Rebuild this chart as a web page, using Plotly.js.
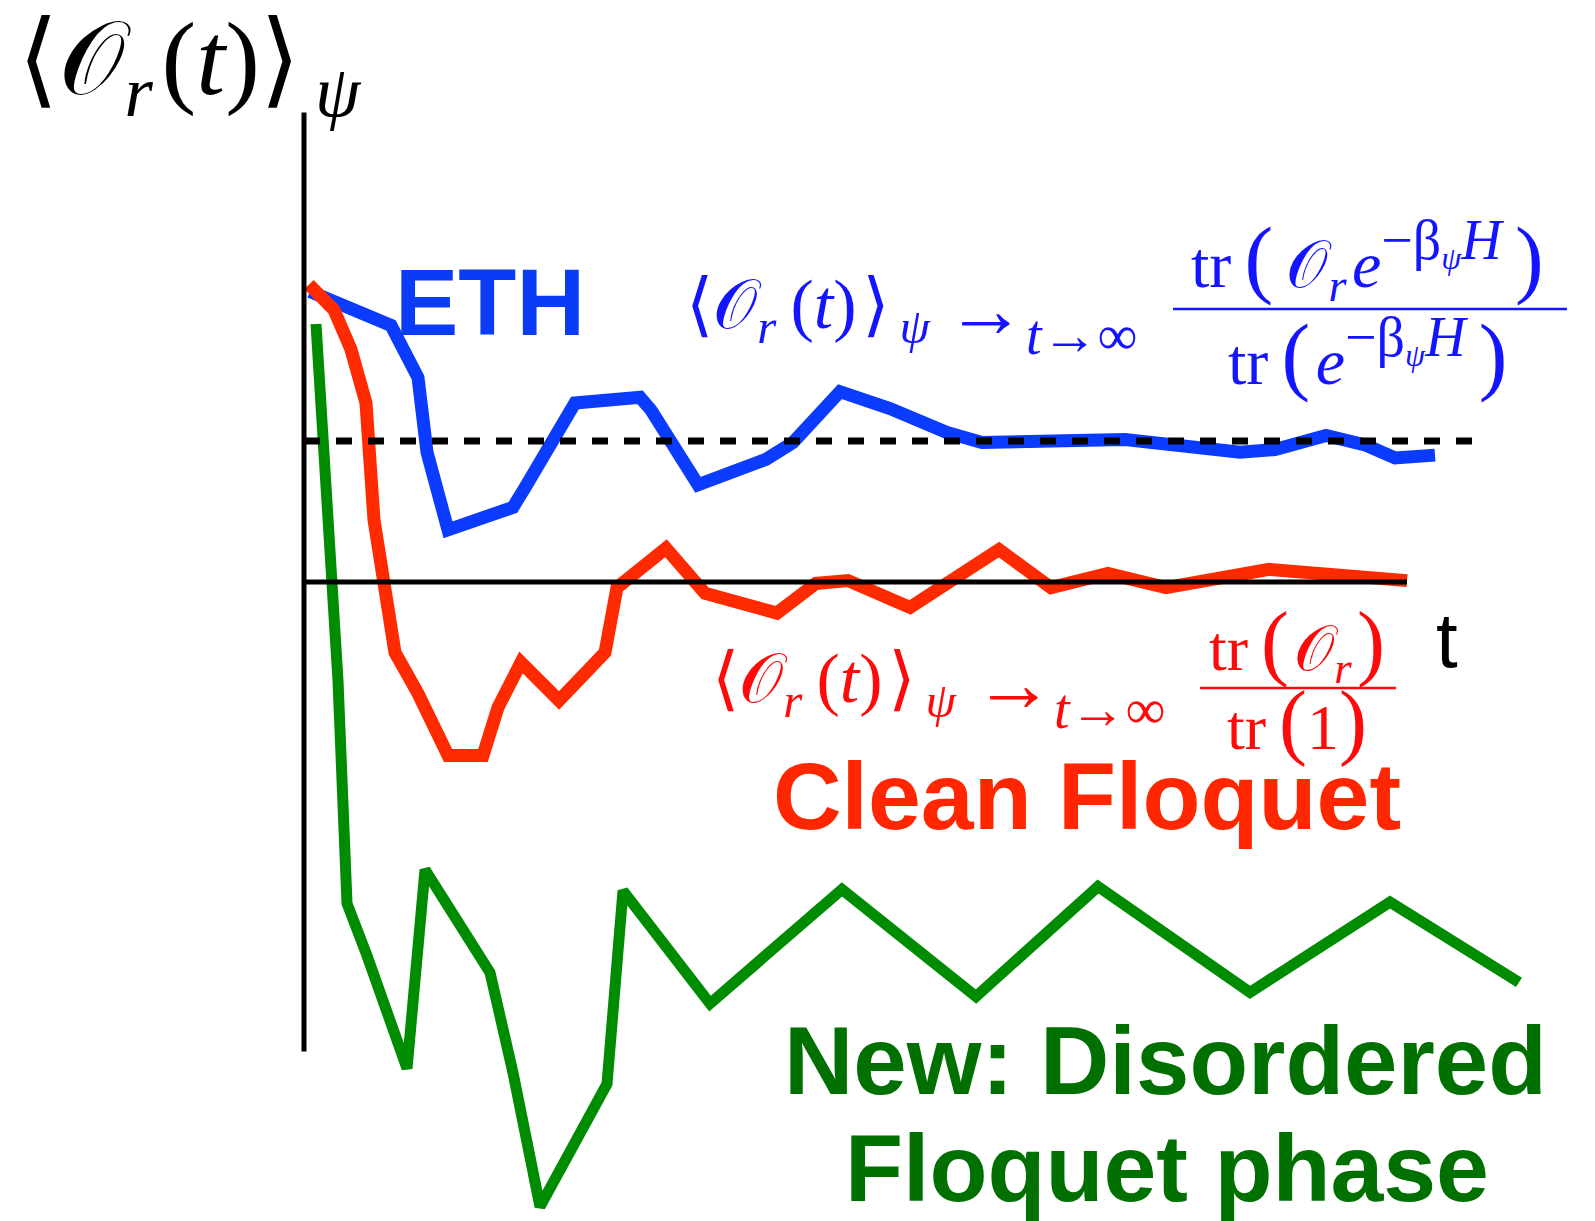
<!DOCTYPE html>
<html>
<head>
<meta charset="utf-8">
<script src="https://cdn.plot.ly/plotly-3.0.1.min.js"></script>
<style>html,body{margin:0;padding:0;background:#fff;}#chart{width:1595px;height:1221px;}</style>
</head>
<body>
<div id="chart"></div>
<script>
// ---- data (time t, expectation value; 0 = infinite-temperature value, 1 = thermal value) ----
const ethT   = [0.06,0.87,1.14,1.23,1.44,2.09,2.21,2.44,2.71,3.36,3.47,3.94,4.62,4.89,5.36,5.86,6.43,6.78,8.21,9.36,9.71,10.22,10.62,10.91,11.31];
const ethV   = [2.06,1.82,1.45,0.92,0.37,0.53,0.67,0.96,1.27,1.31,1.22,0.69,0.87,0.99,1.35,1.23,1.06,0.99,1.01,0.92,0.94,1.04,0.97,0.88,0.90];
const cleanT = [0.05,0.30,0.47,0.62,0.70,0.79,0.91,1.14,1.44,1.79,1.94,2.17,2.55,3.01,3.13,3.62,4.01,4.73,5.12,5.44,6.06,6.95,7.47,8.04,8.62,9.65,10.22,11.03];
const cleanV = [2.11,1.93,1.65,1.27,0.44,-0.01,-0.50,-0.79,-1.23,-1.23,-0.89,-0.57,-0.84,-0.50,-0.04,0.24,-0.08,-0.22,-0.01,0.01,-0.18,0.23,-0.04,0.06,-0.04,0.09,0.05,0.01];
const disT   = [0.12,0.19,0.28,0.34,0.43,0.63,1.03,1.21,1.86,2.09,2.36,3.03,3.19,4.06,5.38,6.72,7.94,9.46,10.86,12.15];
const disV   = [1.83,1.01,-0.08,-0.70,-2.28,-2.65,-3.45,-2.04,-2.77,-3.48,-4.43,-3.56,-2.19,-2.99,-2.18,-2.94,-2.16,-2.91,-2.27,-2.84];
const thermalValue = 1;      // dashed line
const infTempValue = 0;      // solid horizontal axis
const labels = {
  eth: 'ETH',
  clean: 'Clean Floquet',
  dis1: 'New: Disordered',
  dis2: 'Floquet phase',
  t: 't'
};

// ---- layout helpers (page pixels -> paper fractions) ----
const W = 1595, H = 1221;
const PX = x => x / W, PY = y => 1 - y / H;
const O = '𝒪';
const ts = '\u2009';   // thin space
const hs = '\u200A';   // hair space
const serif = 'Liberation Serif, DejaVu Serif, serif';
const sans = 'Liberation Sans, Arial, sans-serif';
const BLUE = '#0b3bff', RED = '#ff2a00', GREEN = '#008c00';
const EQB = '#1414ff', EQR = '#ff0a0a';

const traces = [
  {x: ethT, y: ethV, mode: 'lines', line: {color: BLUE, width: 13}, hoverinfo: 'skip'},
  {x: cleanT, y: cleanV, mode: 'lines', line: {color: RED, width: 13}, hoverinfo: 'skip'},
  {x: disT, y: disV, mode: 'lines', line: {color: GREEN, width: 11}, hoverinfo: 'skip'}
];

function ann(text, x, y, size, color, family, xanchor, yanchor) {
  return {text, x: PX(x), y: PY(y), xref: 'paper', yref: 'paper', showarrow: false,
    xanchor: xanchor || 'left', yanchor: yanchor || 'middle',
    font: {size, color, family}};
}
const big = (s, n) => `<span style="font-size:${n}px">${s}</span>`;
const lhsTop = `⟨${O}<sub><i>r</i></sub>${hs}(<i>t</i>)⟩<sub>${ts}<i>ψ</i></sub>`;
const lhs = `⟨${O}<sub><i>r</i></sub>${ts}(<i>t</i>)${hs}⟩<sub>${ts}<i>ψ</i></sub>`;
const arrow = `→<sub><i>t</i>→∞</sub>`;
const expo = `<sup>${big('−β', 56)}<sub><i>ψ</i></sub>${big('<i>H</i>', 56)}</sup>`;

const annotations = [
  ann(lhsTop, 16, 66, 104, '#000', serif),
  ann(`<b>${labels.eth}</b>`, 393, 302, 95, '#0a3cf5', sans),
  ann(`<b>${labels.clean}</b>`, 1087, 796, 95, '#ff2600', sans, 'center'),
  ann(`<b>${labels.dis1}</b>`, 1165, 1060, 96, '#007000', sans, 'center'),
  ann(`<b>${labels.dis2}</b>`, 1167, 1168, 95, '#007000', sans, 'center'),
  ann(labels.t, 1447, 640, 78, '#000', sans, 'center'),
  // blue equation
  ann(lhs, 684, 310, 70, EQB, serif),
  ann(arrow, 944, 316, 80, EQB, serif),
  ann(`tr${ts}${big('(', 86)}${ts}${O}<sub><i>r</i></sub>${hs}<i>e</i>${expo}${ts}${big(')', 86)}`, 1367, 260, 66, EQB, serif, 'center'),
  ann(`tr${ts}${big('(', 86)}${hs}<i>e</i>${expo}${ts}${big(')', 86)}`, 1367, 354, 66, EQB, serif, 'center'),
  // red equation
  ann(lhs, 710, 684, 70, EQR, serif),
  ann(arrow, 972, 690, 80, EQR, serif),
  ann(`tr${ts}${big('(', 84)}${hs}${O}<sub><i>r</i></sub>${hs}${big(')', 84)}`, 1297, 644, 64, EQR, serif, 'center'),
  ann(`tr${ts}${big('(', 84)}1${big(')', 84)}`, 1297, 721, 64, EQR, serif, 'center')
];

const shapes = [
  // vertical axis
  {type: 'line', xref: 'x', yref: 'y', x0: 0, x1: 0, y0: -3.33, y1: 3.33, line: {color: '#000', width: 5}},
  // horizontal axis at infinite-temperature value
  {type: 'line', xref: 'x', yref: 'y', x0: -0.02, x1: 11.03, y0: infTempValue, y1: infTempValue, line: {color: '#000', width: 5}},
  // thermal value, dashed
  {type: 'line', xref: 'x', yref: 'y', x0: 0, x1: 11.69, y0: thermalValue, y1: thermalValue, line: {color: '#000', width: 7, dash: '16px,16px'}},
  // fraction bars
  {type: 'line', xref: 'paper', yref: 'paper', x0: PX(1173), x1: PX(1567), y0: PY(309), y1: PY(309), line: {color: EQB, width: 2.5}},
  {type: 'line', xref: 'paper', yref: 'paper', x0: PX(1200), x1: PX(1396), y0: PY(688), y1: PY(688), line: {color: EQR, width: 2.5}}
];

const layout = {
  width: W, height: H,
  margin: {l: 0, r: 0, t: 0, b: 0},
  paper_bgcolor: '#fff', plot_bgcolor: '#fff',
  showlegend: false,
  xaxis: {range: [-3.04, 12.91], visible: false, showgrid: false, zeroline: false},
  yaxis: {range: [-4.532, 4.128], visible: false, showgrid: false, zeroline: false},
  shapes, annotations
};
Plotly.newPlot('chart', traces, layout, {staticPlot: true, displayModeBar: false});
</script>
</body>
</html>
